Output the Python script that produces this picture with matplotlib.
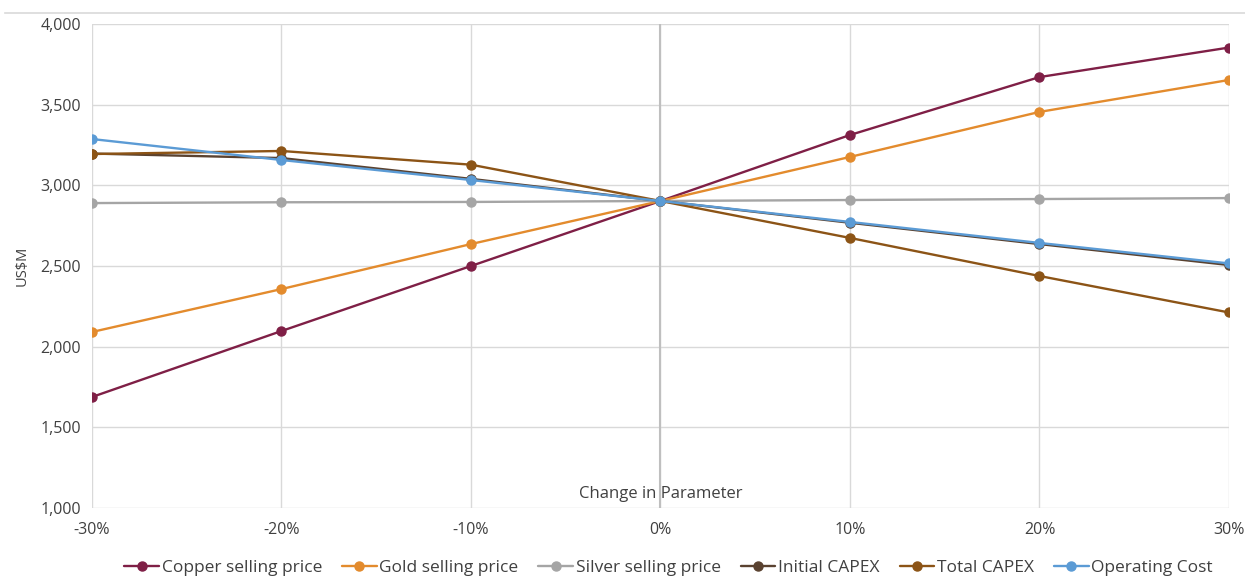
import matplotlib.pyplot as plt
from matplotlib.lines import Line2D
from matplotlib.ticker import FuncFormatter

plt.rcParams['font.family'] = ['Open Sans', 'DejaVu Sans']

changes = [-30, -20, -10, 0, 10, 20, 30]  # % change in parameter

copper = [1688, 2097, 2500, 2903, 3312, 3671, 3854]
gold = [2091, 2357, 2636, 2903, 3176, 3455, 3653]
silver = [2890, 2895, 2897, 2903, 2909, 2915, 2921]
initial_capex = [3197, 3169, 3040, 2903, 2768, 2636, 2506]
total_capex = [3194, 3213, 3128, 2903, 2674, 2438, 2212]
operating_cost = [3287, 3157, 3033, 2903, 2773, 2643, 2516]

series = [
    ('Copper selling price', copper, '#7F1F46'),
    ('Gold selling price', gold, '#E38B2D'),
    ('Silver selling price', silver, '#A5A5A5'),
    ('Initial CAPEX', initial_capex, '#5A4230'),
    ('Total CAPEX', total_capex, '#8C5416'),
    ('Operating Cost', operating_cost, '#5B9BD5'),
]

fig = plt.figure(figsize=(12.45, 5.77), dpi=100)
ax = fig.add_axes([0.0739, 0.1196, 0.9132, 0.8388])

for name, vals, col in series:
    ax.plot(changes, vals, color=col, lw=1.7, marker='o', ms=6.5, label=name,
            solid_capstyle='round', zorder=3)

ax.set_xlim(-30, 30)
ax.set_ylim(1000, 4000)
ax.set_xticks(changes)
ax.set_yticks(range(1000, 4001, 500))
ax.xaxis.set_major_formatter(FuncFormatter(lambda v, p: f'{int(v)}%'))
ax.yaxis.set_major_formatter(FuncFormatter(lambda v, p: f'{int(v):,}'))
ax.tick_params(length=0, labelsize=11.5, colors='#404040', pad=8)
ax.tick_params(axis='x', pad=10)

ax.grid(True, color='#D9D9D9', lw=1)
ax.set_axisbelow(True)
for s in ax.spines.values():
    s.set_visible(False)
# vertical axis crossing at 0%
ax.axvline(0, color='#BFBFBF', lw=1.5, zorder=1)

ax.set_ylabel('US$M', fontsize=10.5, color='#404040', labelpad=8)
ax.text(0, 1040, 'Change in Parameter', ha='center', va='bottom',
        fontsize=12, color='#404040')

fig.legend(loc='center', bbox_to_anchor=(0.537, 0.016), ncol=6, frameon=False,
           fontsize=12.5, handlelength=2.0, columnspacing=1.15, handletextpad=0.15,
           labelcolor='#404040')

fig.add_artist(Line2D([0.004, 1.0], [0.977, 0.977], color='#D9D9D9', lw=1.2,
                      transform=fig.transFigure))

fig.savefig('out.png', dpi=100)
